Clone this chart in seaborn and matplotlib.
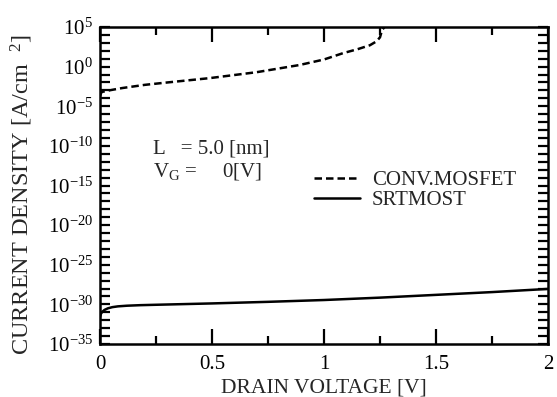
import numpy as np
import pandas as pd
import matplotlib
matplotlib.use("Agg")
import matplotlib.pyplot as plt
import matplotlib.ticker as mticker
import seaborn as sns

# CONV.MOSFET (dashed) : drain voltage [V], log10 current density
conv_v = [0.0, 0.007, 0.05, 0.10, 0.20, 0.30, 0.49, 0.70, 0.89, 1.00, 1.085, 1.15, 1.205, 1.235, 1.25, 1.259, 1.27]
conv_logj = [-3.7, -3.2, -2.95, -2.7, -2.3, -2.0, -1.45, -0.7, 0.2, 0.9, 1.7, 2.2, 2.7, 3.2, 3.7, 4.6, 5.0]

# SRTMOST (solid)
srt_v = [0.0, 0.004, 0.01, 0.02, 0.035, 0.055, 0.08, 0.12, 0.18, 0.25, 0.5, 0.75, 1.0, 1.25, 1.5, 1.75, 2.0]
srt_logj = [-31.6, -31.2, -30.95, -30.7, -30.5, -30.35, -30.25, -30.17, -30.1, -30.05, -29.88, -29.68, -29.45, -29.15, -28.8, -28.45, -28.05]

series_names = ["CONV.MOSFET", "SRTMOST"]

ytick_exps = [5, 0, -5, -10, -15, -20, -25, -30, -35]
xticks = [0, 0.5, 1, 1.5, 2]
xtick_labels = ["0", "0.5", "1", "1.5", "2"]

sns.set_style("ticks")
plt.rcParams["font.family"] = ["Liberation Serif", "DejaVu Serif"]
plt.rcParams["mathtext.fontset"] = "custom"
plt.rcParams["mathtext.rm"] = "Liberation Serif"
plt.rcParams["mathtext.it"] = "Liberation Serif:italic"
plt.rcParams["axes.unicode_minus"] = False

df = pd.concat([
    pd.DataFrame({"V": conv_v, "J": np.power(10.0, conv_logj), "device": series_names[0]}),
    pd.DataFrame({"V": srt_v, "J": np.power(10.0, srt_logj), "device": series_names[1]}),
])

fig = plt.figure(figsize=(5.57, 3.97), dpi=100)
ax = fig.add_axes([100 / 557, 1 - 344 / 397, 448 / 557, 317 / 397])

sns.lineplot(data=df, x="V", y="J", hue="device", style="device",
             palette={series_names[0]: "black", series_names[1]: "black"},
             dashes={series_names[0]: (3, 1.6), series_names[1]: ""},
             linewidth=1.8, sort=False, estimator=None, ax=ax, legend=True)

ax.set_yscale("log")
ax.set_xlim(0, 2)
ax.set_ylim(1e-35, 1e5)

ax.yaxis.set_major_locator(mticker.FixedLocator([10.0 ** e for e in ytick_exps]))
ax.yaxis.set_minor_locator(mticker.FixedLocator([10.0 ** e for e in range(-35, 6)]))
ax.yaxis.set_major_formatter(mticker.FuncFormatter(lambda v, p: r"$10^{%d}$" % round(np.log10(v))))
ax.yaxis.set_minor_formatter(mticker.NullFormatter())

ax.set_xticks(xticks)
ax.set_xticklabels(xtick_labels)
ax.xaxis.set_minor_locator(mticker.MultipleLocator(0.25))

ax.tick_params(axis="both", which="both", direction="in", top=True, right=True, width=1.6, labelsize=15, colors="black")
ax.tick_params(axis="x", which="major", length=11, pad=8)
ax.tick_params(axis="x", which="minor", length=5.5)
ax.tick_params(axis="y", which="both", length=7, pad=5)

for s in ax.spines.values():
    s.set_linewidth(1.8)
    s.set_color("black")

ax.set_xlabel("DRAIN VOLTAGE [V]", fontsize=15.5, labelpad=3)
ax.set_ylabel(r"CURRENT DENSITY [A/cm  $^{2}$]", fontsize=17.5)
ax.yaxis.set_label_coords(-0.145, 0.47)

ax.text(0.118, 0.615, "L   = 5.0 [nm]", transform=ax.transAxes, fontsize=15, va="center")
ax.text(0.118, 0.545, r"V$_{\rm G}$ =     0[V]", transform=ax.transAxes, fontsize=15, va="center")

leg = ax.legend(loc="center left", bbox_to_anchor=(0.46, 0.485), frameon=False, fontsize=15,
                handlelength=2.2, handletextpad=0.55, labelspacing=0.0, borderaxespad=0)

fig.savefig("out.png", dpi=100)
